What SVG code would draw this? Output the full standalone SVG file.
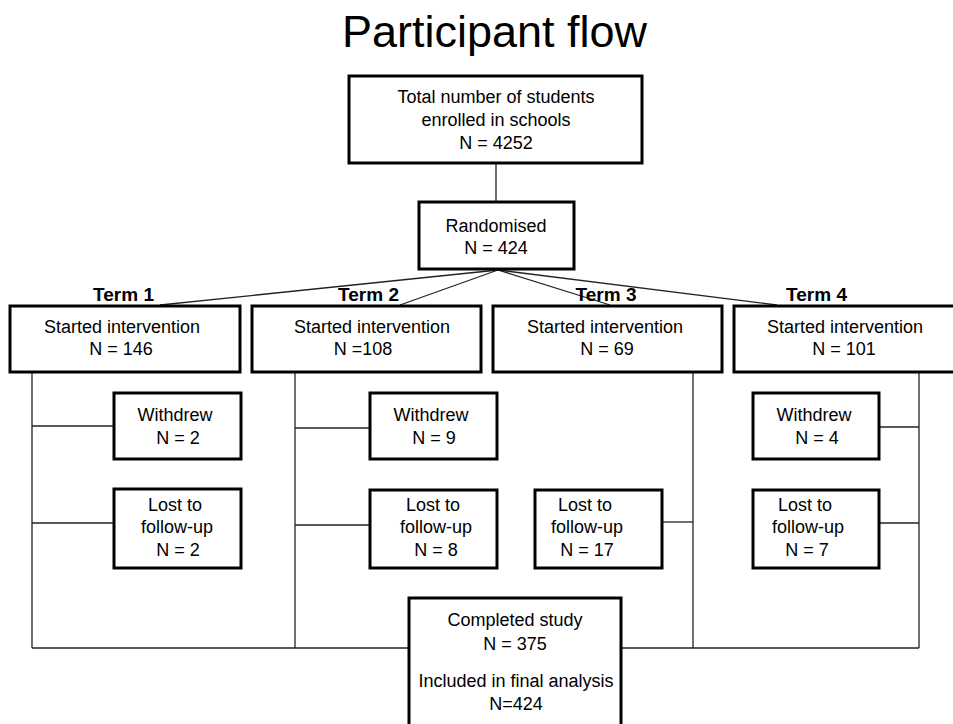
<svg xmlns="http://www.w3.org/2000/svg" width="953" height="724" viewBox="0 0 953 724">
<style>
.box{fill:#fff;stroke:#000;stroke-width:3}
.ln{stroke:#222;stroke-width:1.3;fill:none}
text{font-family:"Liberation Sans",Arial,sans-serif;font-size:18px;fill:#000;text-anchor:middle}
.title{font-size:45px}
.term{font-weight:bold;font-size:19px}
</style>
<rect width="953" height="724" fill="#fff"/>
<text class="title" x="494.5" y="47">Participant flow</text>
<g id="connectors">
<line class="ln" x1="496" y1="163" x2="496" y2="202"/>
<line class="ln" x1="498" y1="270" x2="160" y2="305"/>
<line class="ln" x1="498" y1="270" x2="400" y2="305"/>
<line class="ln" x1="498" y1="270" x2="610" y2="305"/>
<line class="ln" x1="498" y1="270" x2="777" y2="305"/>
<line class="ln" x1="32" y1="372" x2="32" y2="648"/>
<line class="ln" x1="32" y1="426" x2="114" y2="426"/>
<line class="ln" x1="32" y1="523" x2="114" y2="523"/>
<line class="ln" x1="295" y1="372" x2="295" y2="648"/>
<line class="ln" x1="295" y1="428" x2="370" y2="428"/>
<line class="ln" x1="295" y1="525" x2="370" y2="525"/>
<line class="ln" x1="693" y1="372" x2="693" y2="648"/>
<line class="ln" x1="662" y1="522" x2="693" y2="522"/>
<line class="ln" x1="919" y1="372" x2="919" y2="648"/>
<line class="ln" x1="879" y1="427" x2="919" y2="427"/>
<line class="ln" x1="879" y1="523" x2="919" y2="523"/>
<line class="ln" x1="32" y1="648" x2="409" y2="648"/>
<line class="ln" x1="621" y1="648" x2="919" y2="648"/>
</g>
<g id="term-labels">
<text class="term" x="123.5" y="301">Term 1</text>
<text class="term" x="368.5" y="301">Term 2</text>
<text class="term" x="606" y="301">Term 3</text>
<text class="term" x="816.5" y="301">Term 4</text>
</g>
<g id="total">
<rect class="box" x="349" y="76" width="293" height="87"/>
<text x="496" y="103">Total number of students</text>
<text x="496" y="126">enrolled in schools</text>
<text x="496" y="149">N = 4252</text>
</g>
<g id="randomised">
<rect class="box" x="419" y="202" width="155" height="67"/>
<text x="496" y="232">Randomised</text>
<text x="496" y="254">N = 424</text>
</g>
<g id="term1">
<rect class="box" x="10" y="306" width="230" height="66"/>
<text x="122" y="333">Started intervention</text>
<text x="121" y="355">N = 146</text>
</g>
<g id="term2">
<rect class="box" x="252" y="306" width="229" height="66"/>
<text x="372" y="333">Started intervention</text>
<text x="363" y="355">N =108</text>
</g>
<g id="term3">
<rect class="box" x="493" y="306" width="229" height="66"/>
<text x="605" y="333">Started intervention</text>
<text x="607" y="355">N = 69</text>
</g>
<g id="term4">
<rect class="box" x="734" y="306" width="225" height="66"/>
<text x="845" y="333">Started intervention</text>
<text x="844" y="355">N = 101</text>
</g>
<g id="withdrew1">
<rect class="box" x="114" y="393" width="127" height="66"/>
<text x="175" y="421">Withdrew</text>
<text x="178" y="444">N = 2</text>
</g>
<g id="lost1">
<rect class="box" x="114" y="489" width="127" height="79"/>
<text x="175" y="511">Lost to</text>
<text x="177" y="533">follow-up</text>
<text x="178" y="556">N = 2</text>
</g>
<g id="withdrew2">
<rect class="box" x="370" y="393" width="127" height="66"/>
<text x="431" y="421">Withdrew</text>
<text x="434" y="444">N = 9</text>
</g>
<g id="lost2">
<rect class="box" x="370" y="490" width="127" height="78"/>
<text x="433" y="511">Lost to</text>
<text x="436" y="533">follow-up</text>
<text x="436" y="556">N = 8</text>
</g>
<g id="lost3">
<rect class="box" x="535" y="490" width="127" height="78"/>
<text x="585" y="511">Lost to</text>
<text x="587" y="533">follow-up</text>
<text x="587" y="556">N = 17</text>
</g>
<g id="withdrew4">
<rect class="box" x="753" y="393" width="126" height="66"/>
<text x="814" y="421">Withdrew</text>
<text x="817" y="444">N = 4</text>
</g>
<g id="lost4">
<rect class="box" x="753" y="490" width="126" height="78"/>
<text x="805" y="511">Lost to</text>
<text x="808" y="533">follow-up</text>
<text x="807" y="556">N = 7</text>
</g>
<g id="completed">
<rect class="box" x="409" y="598" width="212" height="140"/>
<text x="515" y="626">Completed study</text>
<text x="515" y="650">N = 375</text>
<text x="516" y="687">Included in final analysis</text>
<text x="516" y="710">N=424</text>
</g>
</svg>
